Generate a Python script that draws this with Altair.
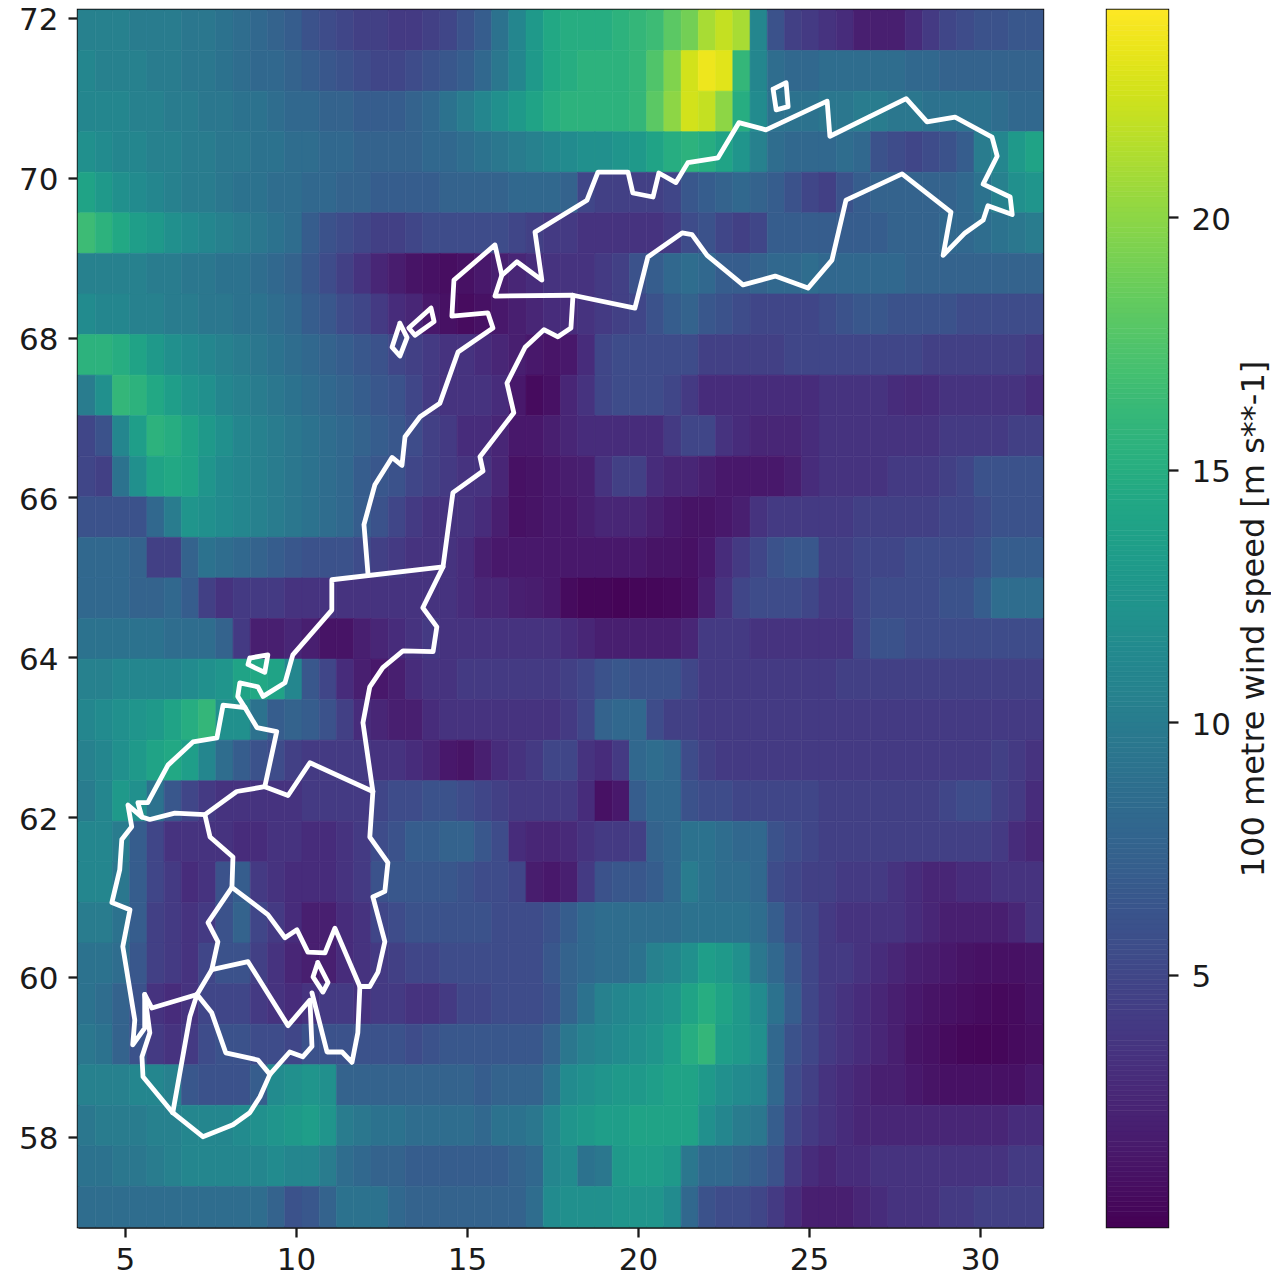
import altair as alt
import numpy as np
import pandas as pd

LON_MIN, LON_MAX = 3.63, 31.84
LAT_MIN, LAT_MAX = 56.87, 72.10
VMAX = 24.1

# wind speed, rows from north to south, columns from west to east
speed = [
[10.5,10.5,10.5,10,10,10,9.5,9.5,9,8.5, 8,7.5,7,6,5.5,5,4.5,4.5,4,4, 4.5,5, 6,7,9,11,13,14.5,15,15,15,15.5, 16,16.5,18,19,21,22,21,11,6,4.5, 4,3.5,3,2,2,2,3,4,5,5.5, 6,6,6.5,6.5],
[11,10.5,10.5,10.5,10,10,9.5,9.5,9,8.5, 8,8,7.5,7,6.5,6,5.5,5,5,5.5, 6,6.5, 7,8,9.5,11,13,14.5,15,15.5,15.5,15.5, 16,17.5,19.5,22.5,23.5,23,16,11,8.5,8, 8,8.5,8.5,8.5,8.5,8.5,8,8,7.5,7.5, 7.5,7.5,7.5,7.5],
[11,11,11,10.5,10.5,10,10,9.5,9.5,9, 9,8.5,8,8,7.5,7.5,7,7,7,7.5, 8,9, 10,11,12,13,14,15,15.5,15.5,15.5,15.5, 16,18,20,22.5,22,20,15,11.5,9,9, 9,9.5,9.5,10,10,9.5,9.5,9,9,9, 9,8.5,8,8],
[12,11.5,11,11,10.5,10.5,10,10,9.5,9.5, 9,9,8.5,8.5,8,8,7.5,7.5,7.5,7.5, 8,8, 8.5,9,9.5,10,10.5,11,11.5,12,12,12.5, 13,14,15,15.5,15,14,12.5,10.5,8.5,8, 8,8,8.5,8,6,5.5,5,5.5,6,7, 10,11,13,14],
[14,13,12,11.5,11,10.5,10,10,9.5,9, 9,8.5,8.5,8,8,7.5,7.5,7,7,7, 7,7.5, 7.5,7.5,7.5,8,8,8,7.5,5,4.5,4.5, 4.5,4.5,5,6.5,7,7.5,8,7.5,7,6, 5,4.5,6,7,7.5,7.5,7.5,7.5,7.5,8, 9,10.5,12,12.5],
[16.5,15.5,14.5,13.5,13,12,11.5,11,10.5,10, 9.5,9,8.5,7,6,5.5,5,4.5,4.5,5, 5.5,5.5, 5.5,5.5,5.5,5,4.5,4,4,3.5,3.5,3.5, 3.5,3.5,4,5.5,6,5,4.5,5,7,7, 7,7,7,7,7,7.5,7.5,7.5,8,8, 8.5,9,9.5,10],
[10.5,10.5,10.5,10.5,10,10,9.5,9.5,9,9, 8.5,8,7.5,6.5,5.5,4.5,3.5,2.5,1.8,1.2, 1,0.8, 1,1.5,2,2.5,3,3.5,3.5,3.5,4,4.5, 6,7,8,8.5,8,7,7,7.5,8,8, 8.5,8,8,8,8,8,7.5,7.5,7.5,7.5, 7.5,7.5,7.5,7.5],
[11.5,11,11,10.5,10.5,10,10,9.5,9.5,9, 9,8.5,8,7,6.5,5.5,5,4,3,2.5, 1.5,1, 0.7,1,1.5,2,2.5,3,3,3.5,4,4.5, 5,6,7,7.5,6.5,6,5.5,5,5,5, 5,5.5,6,6.5,6.5,6,6,6,6,5.5, 5.5,5.5,5.5,5.5],
[15.5,15.5,15,14,13,12,11.5,11,10.5,10, 9.5,9,8.5,8,7.5,7,6.5,6,5,4.5, 4,3.5, 3.5,3,2.5,2,1.5,1.3,1.5,3,5,5.5, 5.5,5.5,5.5,5.5,4.5,4.5,4.5,4.5,4.5,5, 5,5,5,5,5,5,5,4.5,4.5,4.5, 4.5,4.5,4.5,4],
[10,12,16,15.5,14.5,13.5,12.5,12,11,10.5, 10,9.5,9,8.5,8,7.5,7,6.5,6,5, 4,3.5, 3.5,3.5,3,1.5,0.6,1,2.5,3.5,5,5.5, 5.5,5.5,5,4,3,3,3,3,3,3, 3,3.5,3.5,3.5,3.5,3,2.8,3,3.5,3.5, 3.5,3.5,3.5,3],
[5,6,11,13.5,15.5,15,14,13,12,11, 10.5,10,9.5,9,8.5,8,7.5,7,6.5,5.5, 4.5,4, 3,3,2.5,1.5,1.5,2,2.5,3,3,3, 3,3,4,5,5,3.5,3,2.5,2.5,2.5, 3,3.5,3.5,3.5,3.5,3.5,3.5,3.5,4,4, 4,4,4.5,4.5],
[5,4.5,9,12,14,14.5,14,12.5,11.5,11, 10.5,10,9.5,9,8.5,8,7,6.5,6,5, 4.5,4, 3.5,3.5,2.5,1,1.2,1.5,1.8,2,3.5,4.5, 4.5,3,2.5,2.5,2,1.5,1.5,1.5,1.5,2, 3,3.5,3.5,3.5,3.5,4,4,4,4.5,5, 6,6,6,6],
[6,6,6,6,8,10,12.5,12,11.5,11, 10.5,10,9.5,9,8.5,8,7,6,5,4, 3.5,3.5, 3.5,3,2,1,1.2,1.5,1.5,2,2.5,2.5, 2.5,2,1.5,1.2,1.2,1.5,2,3.5,4,4, 4,4,4,4.5,4.5,4.5,4.5,4.5,5,5, 5.5,6,6,6],
[8,8,8,7.5,4.5,4.5,7.5,9,8.5,8, 7.5,7,6.5,6,6,6,5.5,4.5,4,3.5, 3.5,3.5, 3,2,1.5,1.5,1.5,1.5,1.5,1.5,1.5,1.5, 1.5,1.2,1.2,1,1.5,3,4,5,6,6.5, 6.5,4.5,4.5,5,5,5,5.5,5.5,5.5,5.5, 6,7,7,7],
[8,8,8,7.5,7.5,8,7,4.5,3.5,4, 4,4,3.5,3.5,3.5,3.5,3.5,3.5,3.5,3.5, 3.5,3.5, 3,2.5,2.5,2,1.8,1.5,0.6,0.3,0.3,0.2, 0.3,0.4,0.5,0.8,2,3.5,5,5.5,5.5,5.5, 5,4,4,5,5.5,5.5,5.5,5.5,6,6, 7,8.5,8.5,8.5],
[9,9,9,9,9,8.5,8.5,8.5,7.5,4, 2,2,2.5,2,1.2,1.2,2,2.5,3,3.5, 4,3.5, 3.5,3.5,3.5,3.5,3.5,3.5,3,2.5,2,2, 2,2,2,2.5,4,4,4,3.5,3.5,3.5, 3.5,3.5,3.5,5,6,6,5.5,5.5,5.5,5.5, 5.5,5.5,5.5,5.5],
[10.5,10.5,11,11,11,11,11.5,12,12.5,14, 14.5,14,11,6.5,5,3,2,1.5,2,3, 3.5,3.5, 4,4,4,4,4,4,4.5,5,6,6.5, 6,6,6,5,4,4,4,4,4,4, 4,4,4.5,4.5,4.5,4.5,4.5,4.5,4.5,4.5, 4.5,4.5,4.5,4.5],
[11,11.5,12,12.5,13,14,15,16,12,12, 9,7,7.5,7,6,4.5,3,2.5,2,2, 3,3.5, 3.5,3.5,3.5,3.5,3.5,3.5,4,5,7.5,8, 8,5.5,4.5,4.5,4,4,4,4,4,4, 4,4,4,4,4,4,4,4,4,4, 4,4,4,4],
[10.5,11,12,13,14,14.5,13.5,11,8.5,7, 6,5.5,4.5,4,4,4,4,3.5,3.5,3, 2.5,1.5, 1.2,2,3,3.5,4,5,5,3.5,3,4, 8,8.5,8,5.5,4.5,4,4,4,4,4, 4,4,4,4,4,4,4,4,4,4, 4,4.5,4,3.5],
[10,11,13,12,9,6.5,5,4,3.5,3.5, 3.5,3.5,3.5,4,4,4,4,5,5.5,5.5, 6,6, 5.5,5,4.5,4,4,4,4,3,1,1.5, 7,8,8,6,5.5,5.5,5,5,5,5, 5,4.5,4.5,4.5,4.5,4.5,4.5,4.5,5,5.5, 5.5,4.5,4,3],
[11,11,10,7,5,3.5,3.5,3.5,3.5,3, 3,3.5,3.5,3,3,3.5,4,5.5,6,7, 7,7.5, 7.5,6.5,5.5,3,2.5,2.5,2.8,3.5,4,4, 4.5,7.5,8,9,9,8.5,8,8,6,5.5, 5,4.5,4.5,4.5,4.5,4.5,4.5,4.5,4.5,4.5, 4.5,4,3,2.5],
[11,11,9.5,7,5,4,3,3.5,6,7, 4,3.5,3,3,3,3.5,4,6,6.5,6.5, 6.5,6.5, 6,5.5,5.5,5,1.8,1.5,2,4,6,6.5, 6.5,7,8,10,9,8.5,8.5,8,5.5,5, 4.5,4.5,4,4,4,3.5,3,2.5,2.5,3, 3,3.5,3.5,3.5],
[10,10,9,7,4.5,4,3.5,4,6,7.5, 5,4,3,2,2,3,3.5,5,5.5,6, 6,6, 6,6,5.5,5.5,5.5,6,7,8,8.5,8.5, 8.5,8.5,8.5,9,9,9,9,8.5,7,5.5, 5,4,3.5,3.5,3.5,3.5,3,2.5,2,2, 2,2,2.5,3.5],
[9,9,8.5,6.5,4.5,4,3.5,5,6,6, 4.5,3.5,2.5,2,2,3,3.5,4,4.5,5, 5,5.5, 5.5,5.5,5.5,5.5,5.5,6.5,7.5,8,8.5,8.5, 9,10.5,11,12,13.5,13,12,9.5,8,6.5, 5,4,4,3.5,3,2.5,2,1.8,1.5,1.2, 1,1,1,1.2],
[9,8.5,7.5,6,3.5,3,3.5,5,5,5, 4,3.5,3,3.5,4,4,3.5,4,4,3.5, 3.5,4, 5,5,5.5,5.5,5.5,6,7.5,9,10.5,11, 11.5,12,12.5,14,15,14,13,11.5,9,7, 5,4,3.5,3,2.5,2,1.5,1.2,1,0.8, 0.6,0.5,0.6,1],
[9.5,9,7.5,6,4,3.5,4,5.5,6,6, 5.5,5.5,5,6,6,6,6,6,6,5.5, 6,6.5, 6.5,6.5,6.5,6.5,6.5,7.5,9.5,10.5,11,11.5, 12,12.5,13.5,15,16,13.5,13,12,8,6, 5,4,3.5,3,2.5,2,1.2,1,0.6,0.4, 0.3,0.4,0.6,0.8],
[10.5,10.5,10.5,11,11,10.5,6.5,6,6,6, 7,11.5,12,12.5,12,7.5,7.5,7.5,7.5,7.5, 7.5,7.5, 7.5,7,7.5,7.5,7.5,9,11.5,12,12.5,13, 13,13.5,14,14,13,12,11.5,11,8,5.5, 4.5,3.5,3,2.5,2,2,1.5,1.2,1,1, 1,1,1,1.5],
[9.5,10,10,10,10.5,10.5,11,11,11,11.5, 12,12.5,13,13.5,12.5,10,9.5,9,9,8.5, 8.5,8.5, 8.5,8,9,9,9.5,11,12.5,13,13.5,13.5, 14,14,14,14,12,11,10,9.5,7,5, 4,3.5,3,2.5,2.5,2.5,2.5,2.5,2.5,2.5, 2.5,2.5,3,3],
[9,9,9.5,9.5,10,10.5,11,11,11,11, 11,11.5,11,11,10,8.5,8,7.5,7.5,7, 7,7, 7,7,7,7.5,8,11,11.5,9,9.5,13, 13.5,13.5,13,9.5,8,8,7.5,7,6,4, 3,2.5,3,3,3.5,3.5,3.5,3.5,3.5,3.5, 3.5,3.5,4,4],
[8.5,8.5,8.5,8.5,8.5,8.5,8.5,8.5,8.5,8.5, 8.5,7.5,6,6.5,7.5,9,9,9,8,7.5, 7.5,7.5, 7.5,7.5,7.5,7.5,8.5,11.5,12,12,12,12.5, 12.5,12.5,11.5,8,6,5.5,5.5,5,4,3, 2,2,2,2.5,3,3.5,3.5,3.5,4,4, 4.5,4.5,4.5,4.5],
]

# county outlines and islands as lon, lat vertices
north = [(15.82,68.52),(18.10,68.53),(19.91,68.37),(20.29,69.01),(21.29,69.31),(21.58,69.29),(22.02,69.03),(23.07,68.66),(24.01,68.77),(24.97,68.62),(25.67,68.97),(26.08,69.72),(27.72,70.05),(29.15,69.57),(28.92,69.03),(29.56,69.31),(30.09,69.47),(30.23,69.65),(30.94,69.54),(30.88,69.76),(30.09,69.92),(30.50,70.27),(30.35,70.51),(29.27,70.76),(28.45,70.70),(27.84,70.99),(25.61,70.52),(25.53,70.96),(23.74,70.60),(22.95,70.69),(22.34,70.25),(21.46,70.19),(21.11,69.94),(20.61,70.06),(20.44,69.76),(19.85,69.81),(19.71,70.07),(18.83,70.07),(18.51,69.72),(16.99,69.32),(17.19,68.72),(16.46,68.95),(16.02,68.78),(15.82,68.52)]
coast_nordland = [(16.02,68.78),(15.82,69.16),(14.62,68.72),(14.56,68.27),(15.61,68.31),(15.76,68.12),(14.74,67.82),(14.21,67.18),(13.63,67.01),(13.19,66.76),(13.10,66.40),(12.81,66.50),(12.31,66.16),(11.99,65.66),(12.11,65.03)]
inland_north = [(18.10,68.53),(18.04,68.12),(17.66,68.01),(17.25,68.10),(16.70,67.88),(16.17,67.43),(16.37,67.06),(15.38,66.51),(15.47,66.33),(14.59,66.06),(14.30,65.13),(11.05,64.97),(11.05,64.59),(9.91,64.03),(9.68,63.68),(9.04,63.51),(8.89,63.63),(8.36,63.68),(8.30,63.51),(8.51,63.37),(7.87,63.40),(7.69,62.99),(6.99,62.94),(6.26,62.65),(5.67,62.18),(5.38,62.18),(5.50,62.00),(5.09,62.15),(5.20,61.88),(4.91,61.72),(4.85,61.34),(4.62,60.93),(5.15,60.84),(4.94,60.38),(5.29,59.46),(5.23,59.15),(5.58,59.36),(5.58,59.78),(5.79,59.61),(7.11,59.78)]
south = [(5.58,59.78),(5.73,59.30),(5.50,59.00),(5.53,58.75),(6.40,58.30),(7.28,58.00),(8.16,58.15),(8.65,58.30),(8.95,58.50),(9.24,58.78),(9.82,59.06),(10.20,59.00),(10.47,59.13),(10.41,59.71),(9.77,59.39),(8.60,60.19),(7.54,60.09),(7.11,59.78)]
telemark = [(7.54,60.09),(7.72,60.44),(7.43,60.68),(8.13,61.12)]
rogaland = [(7.11,59.78),(6.90,59.50),(6.40,58.30)]
agder = [(7.11,59.78),(7.54,59.55),(7.95,59.05),(8.89,58.96),(9.24,58.78)]
east = [(10.47,59.80),(10.91,59.06),(11.35,59.06),(11.64,58.93),(11.81,59.30),(11.87,59.88),(12.16,59.88),(12.40,60.06),(12.60,60.44),(12.25,61.00),(12.60,61.07),(12.69,61.43),(12.16,61.75),(12.25,62.32),(11.96,63.18),(12.16,63.63),(12.54,63.87),(13.13,64.08),(14.01,64.07),(14.12,64.38),(13.71,64.62),(14.30,65.13)]
middle = [(5.50,62.00),(5.73,61.97),(6.46,62.05),(7.34,62.03),(8.27,62.32),(9.09,62.38),(9.77,62.27),(10.41,62.68),(12.25,62.32)]
more = [(9.09,62.38),(9.44,63.07),(8.86,63.12),(8.51,63.37)]
viken = [(7.34,62.03),(7.49,61.75),(8.16,61.50),(8.13,61.12),(9.18,60.78),(9.68,60.49),(10.03,60.59),(10.35,60.31),(10.85,60.30),(11.14,60.61),(11.87,59.88)]
island_a = [(13.04,68.18),(13.25,68.00),(13.04,67.77),(12.81,67.88),(13.04,68.18)]
island_b = [(13.95,68.37),(14.04,68.20),(13.48,68.03),(13.30,68.12),(13.95,68.37)]
island_c = [(23.95,71.11),(24.33,71.19),(24.39,70.89),(24.04,70.85),(23.95,71.11)]
island_d = [(8.65,63.99),(9.18,64.03),(9.09,63.81),(8.60,63.91),(8.65,63.99)]
island_e = [(10.64,60.18),(10.94,59.93),(10.79,59.81),(10.50,60.00),(10.64,60.18)]
paths = [north, coast_nordland, inland_north, south, telemark, rogaland, agder, east, middle, more, viken,
         island_a, island_b, island_c, island_d, island_e]

x_ticks = [5, 10, 15, 20, 25, 30]
y_ticks = [58, 60, 62, 64, 66, 68, 70, 72]
cbar_ticks = [5, 10, 15, 20]

n_rows, n_cols = len(speed), len(speed[0])
lon_edges = np.linspace(LON_MIN, LON_MAX, n_cols + 1)
lat_edges = np.linspace(LAT_MAX, LAT_MIN, n_rows + 1)
cells = pd.DataFrame([
    {"lon": lon_edges[c], "lon2": lon_edges[c + 1], "lat": lat_edges[r], "lat2": lat_edges[r + 1], "v": speed[r][c]}
    for r in range(n_rows) for c in range(n_cols)
])
outline = pd.DataFrame([
    {"lon": p[0], "lat": p[1], "path": i, "seq": j}
    for i, path in enumerate(paths) for j, p in enumerate(path)
])
cbar_edges = np.linspace(0, VMAX, 242)
cbar = pd.DataFrame({"a": cbar_edges[:-1], "b": cbar_edges[1:], "v": (cbar_edges[:-1] + cbar_edges[1:]) / 2})

color = alt.Scale(scheme="viridis", domain=[0, VMAX])
x_scale = alt.Scale(domain=[LON_MIN, LON_MAX], nice=False, zero=False)
y_scale = alt.Scale(domain=[LAT_MIN, LAT_MAX], nice=False, zero=False)

heat = alt.Chart(cells).mark_rect(strokeWidth=0.6).encode(
    x=alt.X("lon:Q", scale=x_scale, title=None,
            axis=alt.Axis(values=x_ticks, labelPadding=8, format="d")),
    x2="lon2:Q",
    y=alt.Y("lat:Q", scale=y_scale, title=None,
            axis=alt.Axis(values=y_ticks, labelPadding=10, labelOffset=3, format="d", minExtent=70, maxExtent=70)),
    y2="lat2:Q",
    fill=alt.Fill("v:Q", scale=color, legend=None),
    stroke=alt.Stroke("v:Q", scale=color, legend=None),
)
lines = alt.Chart(outline).mark_line(color="white", strokeWidth=4.8, strokeJoin="round", strokeCap="round").encode(
    x=alt.X("lon:Q", scale=x_scale),
    y=alt.Y("lat:Q", scale=y_scale),
    detail="path:N",
    order="seq:Q",
)
main = alt.layer(heat, lines).properties(width=965, height=1217)

bar = alt.Chart(cbar).mark_rect(strokeWidth=0.6).encode(
    x=alt.value(0), x2=alt.value(61),
    y=alt.Y("a:Q", scale=alt.Scale(domain=[0, VMAX], nice=False, zero=False),
            axis=alt.Axis(orient="right", values=cbar_ticks, labelPadding=13, labelOffset=3, format="d", domain=False,
                          title="100 metre wind speed [m s**-1]", titleFontSize=32, titleFontWeight="normal",
                          titleFont="DejaVu Sans", titleColor="#1a1a1a", titleAngle=270, titleBaseline="bottom",
                          titlePadding=40)),
    y2="b:Q",
    fill=alt.Fill("v:Q", scale=color, legend=None),
    stroke=alt.Stroke("v:Q", scale=color, legend=None),
).properties(width=61, height=1217)

chart = alt.hconcat(main, bar, spacing=60).properties(
    padding={"left": -2, "top": -5, "right": 0, "bottom": 0},
    background="white",
).configure_view(stroke="#111111", strokeWidth=2.4).configure_axis(
    grid=False, tickSize=10, tickWidth=2.3, tickColor="#1a1a1a", domainColor="#1a1a1a", domainWidth=2.3,
    labelFont="DejaVu Sans", labelFontSize=31, labelColor="#1a1a1a",
)
chart.save("out.html", embed_options={"renderer": "svg", "actions": False})
